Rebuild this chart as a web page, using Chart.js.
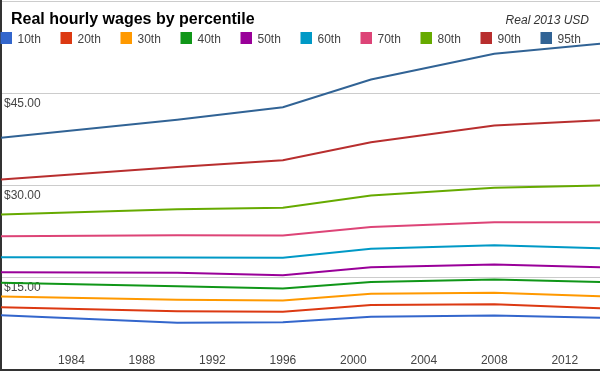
<!DOCTYPE html>
<html>
<head>
<meta charset="utf-8">
<script src="https://cdn.jsdelivr.net/npm/chart.js@4/dist/chart.umd.min.js"></script>
<style>
  html, body { margin: 0; padding: 0; background: #fff; }
  #wrap { width: 600px; height: 371px; position: relative; }
</style>
</head>
<body>
<div id="wrap"><canvas id="c" width="600" height="371"></canvas></div>
<script>
const titleText = 'Real hourly wages by percentile';
const subtitleText = 'Real 2013 USD';
const years = [1980, 1990, 1996, 2001, 2008, 2014];
const xTickValues = [1984, 1988, 1992, 1996, 2000, 2004, 2008, 2012];
const yTickValues = [0, 15, 30, 45, 60];
const seriesNames = ['10th', '20th', '30th', '40th', '50th', '60th', '70th', '80th', '90th', '95th'];
const p10 = [8.92, 7.69, 7.78, 8.66, 8.87, 8.50];
const p20 = [10.22, 9.56, 9.48, 10.55, 10.71, 10.06];
const p30 = [11.96, 11.43, 11.31, 12.40, 12.56, 12.01];
const p40 = [14.19, 13.62, 13.26, 14.29, 14.72, 14.29];
const p50 = [15.91, 15.80, 15.42, 16.72, 17.16, 16.72];
const p60 = [18.35, 18.30, 18.25, 19.71, 20.30, 19.81];
const p70 = [21.76, 21.90, 21.88, 23.26, 24.04, 24.04];
const p80 = [25.29, 26.15, 26.38, 28.38, 29.63, 30.00];
const p90 = [30.98, 33.00, 34.10, 37.04, 39.75, 40.60];
const p95 = [37.75, 40.68, 42.73, 47.23, 51.41, 53.03];
const seriesValues = [p10, p20, p30, p40, p50, p60, p70, p80, p90, p95];
const colors = ['#3366cc', '#dc3912', '#ff9900', '#109618', '#990099', '#0099c6', '#dd4477', '#66aa00', '#b82e2e', '#316395'];

const FONT = "Arial, 'Liberation Sans', sans-serif";

const datasets = seriesNames.map((name, i) => ({
  label: name,
  data: years.map((y, j) => ({ x: y, y: seriesValues[i][j] })),
  borderColor: colors[i],
  backgroundColor: colors[i],
  borderWidth: 2,
  pointRadius: 0,
  pointHoverRadius: 0,
  tension: 0,
  fill: false
}));

const headerPlugin = {
  id: 'header',
  afterDraw(chart) {
    const ctx = chart.ctx;
    ctx.save();
    ctx.textBaseline = 'alphabetic';
    ctx.fillStyle = '#000';
    ctx.font = 'bold 16px ' + FONT;
    ctx.textAlign = 'left';
    ctx.fillText(titleText, 11, 24);
    ctx.fillStyle = '#333';
    ctx.font = 'italic 12px ' + FONT;
    ctx.textAlign = 'right';
    ctx.fillText(subtitleText, 589, 24);
    ctx.textAlign = 'left';
    ctx.font = '12px ' + FONT;
    chart.data.datasets.forEach((ds, i) => {
      const x0 = 60 * i;
      ctx.fillStyle = ds.borderColor;
      ctx.fillRect(x0 + 0.5, 32, 11.5, 12);
      ctx.fillStyle = '#444';
      ctx.fillText(ds.label, x0 + 17.5, 43);
    });
    ctx.restore();
  }
};

function flatFit(scale) {
  scale.paddingTop = 0;
  scale.paddingBottom = 0;
  scale.paddingLeft = 0;
  scale.paddingRight = 0;
  if (scale.isHorizontal()) scale.height = 0; else scale.width = 0;
}

new Chart(document.getElementById('c'), {
  type: 'line',
  data: { datasets },
  plugins: [headerPlugin],
  options: {
    responsive: false,
    animation: false,
    events: [],
    layout: { padding: { top: 1, left: 1, right: 0, bottom: 1 } },
    plugins: {
      legend: { display: false },
      title: { display: false },
      tooltip: { enabled: false }
    },
    scales: {
      x: {
        type: 'linear',
        min: 1980,
        max: 2014,
        afterFit: flatFit,
        afterBuildTicks: (scale) => { scale.ticks = xTickValues.map(v => ({ value: v })); },
        grid: { display: false, drawTicks: false },
        border: { display: true, color: '#333', width: 2 },
        ticks: {
          autoSkip: false,
          maxRotation: 0,
          mirror: true,
          padding: 2,
          color: '#444',
          font: { family: FONT, size: 12 },
          callback: (v) => String(v)
        }
      },
      y: {
        min: 0,
        max: 60,
        afterFit: flatFit,
        afterBuildTicks: (scale) => { scale.ticks = yTickValues.map(v => ({ value: v })); },
        grid: { color: '#cccccc', lineWidth: 1, drawTicks: false },
        border: { display: true, color: '#333', width: 2 },
        ticks: {
          mirror: true,
          padding: 3,
          labelOffset: 10,
          color: '#444',
          font: { family: FONT, size: 12 },
          callback: (v) => (v > 0 && v < 60) ? '$' + v.toFixed(2) : ''
        }
      }
    }
  }
});
</script>
</body>
</html>
